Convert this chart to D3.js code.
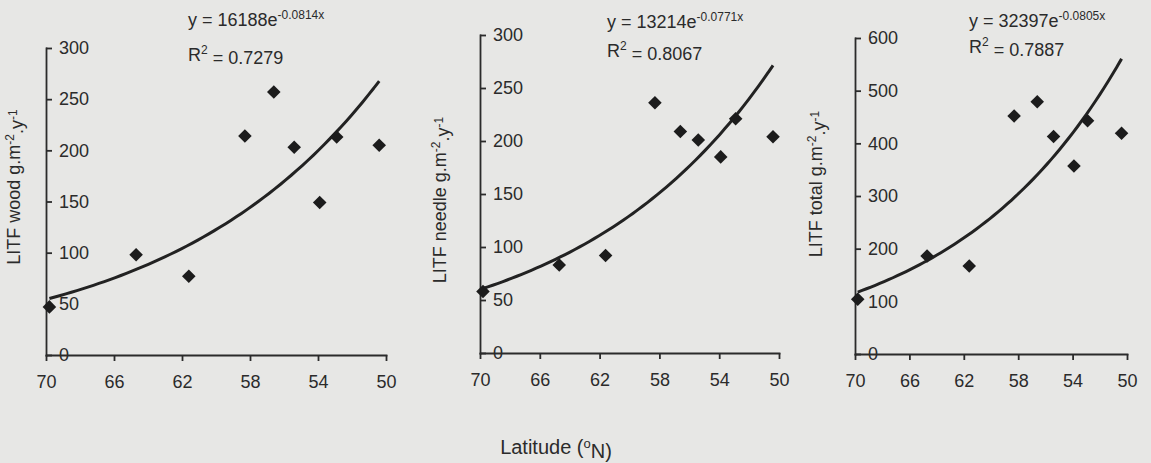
<!DOCTYPE html>
<html>
<head>
<meta charset="utf-8">
<script src="https://cdn.jsdelivr.net/npm/d3@7"></script>
<style>
  html, body { margin: 0; padding: 0; background: #e7e7e5; }
  svg { display: block; font-family: "Liberation Sans", Arial, sans-serif; }
  .axis path, .axis line { stroke: #2b2b2b; stroke-width: 1.8; }
  .axis text { fill: #2b2b2b; font-size: 18px; }
</style>
</head>
<body>
<div id="chart"></div>
<script>
// latitude of the sites (°N), shared by the three panels
var latitude = [69.8, 64.7, 61.6, 58.3, 56.6, 55.4, 53.9, 52.9, 50.4];

// litterfall values (g.m-2.y-1)
var woodValues   = [47, 98, 77, 214, 257, 203, 149, 213, 205];
var needleValues = [58, 83, 92, 236, 209, 201, 185, 221, 204];
var totalValues  = [104, 186, 167, 452, 479, 413, 357, 443, 419];

var latTicks = [70, 66, 62, 58, 54, 50];
var woodTicks = [0, 50, 100, 150, 200, 250, 300];
var needleTicks = [0, 50, 100, 150, 200, 250, 300];
var totalTicks = [0, 100, 200, 300, 400, 500, 600];

// fitted curves y = a * exp(b * x)
var woodFit   = {a: 16188, b: -0.0814, eq: "y = 16188e", exp: "-0.0814x", r2: "0.7279"};
var needleFit = {a: 13214, b: -0.0771, eq: "y = 13214e", exp: "-0.0771x", r2: "0.8067"};
var totalFit  = {a: 32397, b: -0.0805, eq: "y = 32397e", exp: "-0.0805x", r2: "0.7887"};

var width = 1151, height = 463;

var svg = d3.select("#chart")
  .append("svg")
    .attr("width", width)
    .attr("height", height);

var panels = [
  {name: "wood",   values: woodValues,   ticks: woodTicks,   fit: woodFit,
   x0: 46, x1: 386, yTop: 48, yBot: 355, labelX: 20, labelY: 187, eqX: 188, eqY: 26, r2Y: 61},
  {name: "needle", values: needleValues, ticks: needleTicks, fit: needleFit,
   x0: 480, x1: 779, yTop: 35, yBot: 353, labelX: 446, labelY: 200, eqX: 607, eqY: 28, r2Y: 57},
  {name: "total",  values: totalValues,  ticks: totalTicks,  fit: totalFit,
   x0: 855, x1: 1127, yTop: 38, yBot: 354, labelX: 822, labelY: 184, eqX: 969, eqY: 27, r2Y: 53}
];

panels.forEach(function(p) {
  var x = d3.scaleLinear()
    .domain([70, 50])
    .range([p.x0, p.x1]);

  var y = d3.scaleLinear()
    .domain([0, d3.max(p.ticks)])
    .range([p.yBot, p.yTop]);

  var g = svg.append("g");

  // x axis
  g.append("g")
    .attr("class", "axis")
    .attr("transform", "translate(0," + p.yBot + ")")
    .call(d3.axisBottom(x).tickValues(latTicks).tickSize(6).tickSizeOuter(0).tickPadding(14));

  // y axis, labels sit to the right of the line
  g.append("g")
    .attr("class", "axis")
    .attr("transform", "translate(" + p.x0 + ",0)")
    .call(d3.axisRight(y).tickValues(p.ticks).tickSize(6).tickSizeOuter(0).tickPadding(7));

  g.selectAll(".domain").attr("stroke-linecap", "square");

  // y axis title
  var t = g.append("text")
    .attr("transform", "translate(" + p.labelX + "," + p.labelY + ")rotate(-90)")
    .attr("text-anchor", "middle")
    .attr("fill", "#2b2b2b")
    .style("font-size", "18px");
  t.append("tspan").text("LITF " + p.name + " g.m");
  t.append("tspan").attr("dy", "-0.5em").style("font-size", "12px").text("-2");
  t.append("tspan").attr("dy", "0.5em").text(".y");
  t.append("tspan").attr("dy", "-0.5em").style("font-size", "12px").text("-1");

  // fitted curve between the outer sites
  var lo = d3.min(latitude), hi = d3.max(latitude);
  var curvePts = d3.range(0, 61).map(function(i) {
    var lat = hi - (hi - lo) * i / 60;
    return [lat, p.fit.a * Math.exp(p.fit.b * lat)];
  });
  g.append("path")
    .datum(curvePts)
    .attr("fill", "none")
    .attr("stroke", "#222")
    .attr("stroke-width", 3)
    .attr("d", d3.line()
      .x(function(d) { return x(d[0]); })
      .y(function(d) { return y(d[1]); })
      .curve(d3.curveBasis));

  // diamonds
  g.selectAll("path.pt")
    .data(p.values)
    .enter()
    .append("path")
      .attr("class", "pt")
      .attr("d", d3.symbol().type(d3.symbolSquare).size(92))
      .attr("fill", "#1c1c1c")
      .attr("transform", function(d, i) {
        return "translate(" + x(latitude[i]) + "," + y(d) + ")rotate(45)";
      });

  // equation and R2
  var eq = g.append("text")
    .attr("x", p.eqX)
    .attr("y", p.eqY)
    .attr("fill", "#2b2b2b")
    .style("font-size", "18px");
  eq.append("tspan").text(p.fit.eq);
  eq.append("tspan").attr("dy", "-0.55em").style("font-size", "12px").text(p.fit.exp);

  var r2 = g.append("text")
    .attr("x", p.eqX)
    .attr("y", p.r2Y)
    .attr("fill", "#2b2b2b")
    .style("font-size", "18px");
  r2.append("tspan").text("R");
  r2.append("tspan").attr("dy", "-0.55em").style("font-size", "12px").text("2");
  r2.append("tspan").attr("dy", "0.55em").text(" = " + p.fit.r2);
});

// shared x title
var xt = svg.append("text")
  .attr("x", 556)
  .attr("y", 454)
  .attr("text-anchor", "middle")
  .attr("fill", "#2b2b2b")
  .style("font-size", "20px");
xt.append("tspan").text("Latitude (");
xt.append("tspan").attr("dy", "-0.5em").style("font-size", "13px").text("o");
xt.append("tspan").attr("dy", "0.5em").text("N)");
</script>
</body>
</html>
